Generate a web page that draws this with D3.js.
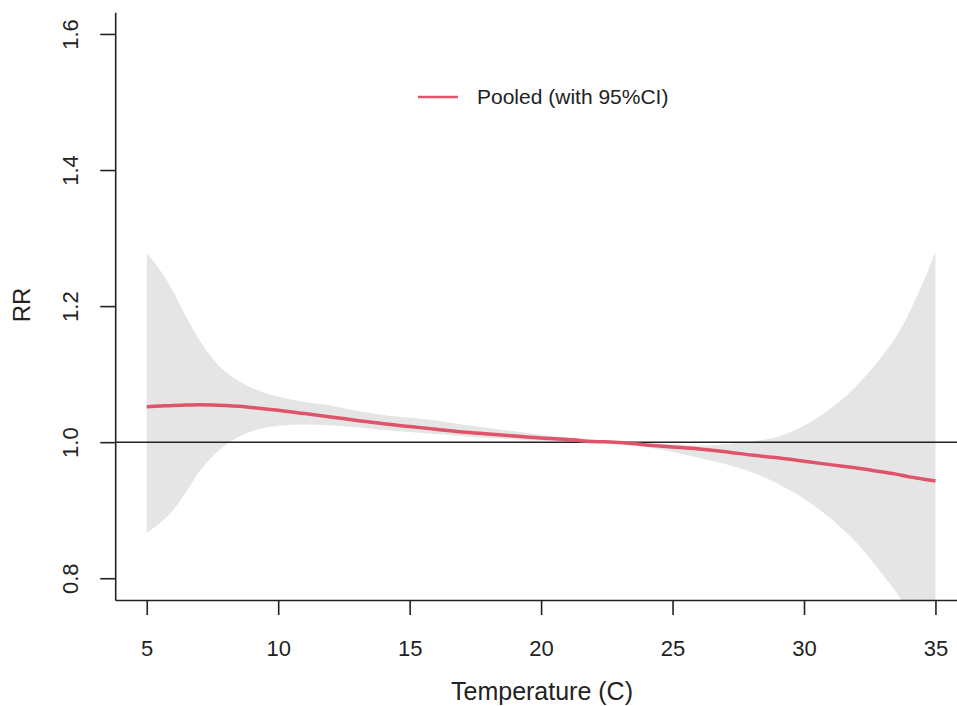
<!DOCTYPE html>
<html>
<head>
<meta charset="utf-8">
<script src="https://cdn.jsdelivr.net/npm/d3@7"></script>
<style>
  body { margin: 0; background: #fff; }
  svg { display: block; font-family: "Liberation Sans", Arial, Helvetica, sans-serif; }
</style>
</head>
<body>
<svg id="chart" width="957" height="706"></svg>
<script>
// temperature grid and pooled RR with 95% CI
const temps = [5, 5.5, 6, 6.5, 7, 7.5, 8, 8.5, 9, 10, 11, 12, 13, 14, 15, 16, 17, 18, 19, 20,
               21, 22, 22.8, 24, 25, 26, 27, 28, 29, 30, 31, 32, 33, 33.5, 34, 34.5, 35];
const rrFit = [1.052, 1.053, 1.054, 1.0545, 1.055, 1.0548, 1.054, 1.0528, 1.051, 1.047, 1.042, 1.037, 1.032, 1.027, 1.023, 1.019, 1.015, 1.012, 1.009, 1.006,
               1.004, 1.001, 1.000, 0.996, 0.993, 0.990, 0.986, 0.981, 0.977, 0.972, 0.967, 0.962, 0.956, 0.953, 0.949, 0.946, 0.943];
const rrLow = [0.866, 0.881, 0.900, 0.927, 0.957, 0.979, 0.996, 1.008, 1.016, 1.024, 1.026, 1.025, 1.022, 1.018, 1.015, 1.012, 1.009, 1.006, 1.004, 1.002,
               1.001, 0.999, 1.000, 0.993, 0.986, 0.977, 0.968, 0.956, 0.939, 0.917, 0.888, 0.852, 0.805, 0.780, 0.750, 0.720, 0.694];
const rrHigh = [1.278, 1.253, 1.222, 1.184, 1.150, 1.123, 1.103, 1.090, 1.080, 1.067, 1.059, 1.054, 1.046, 1.040, 1.036, 1.032, 1.026, 1.021, 1.016, 1.011,
                1.007, 1.003, 1.000, 0.998, 0.997, 0.995, 0.997, 1.001, 1.008, 1.024, 1.049, 1.083, 1.128, 1.155, 1.190, 1.232, 1.280];
const xTicks = [5, 10, 15, 20, 25, 30, 35];
const yTicks = [0.8, 1.0, 1.2, 1.4, 1.6];
const legendLabel = "Pooled (with 95%CI)";

const svg = d3.select("#chart");

// plot region (R style, 4% expansion of xlim/ylim)
const x = d3.scaleLinear().domain([3.8, 36.2]).range([115.2, 967]);
const y = d3.scaleLinear().domain([0.768, 1.632]).range([600, 12.2]);

svg.append("defs").append("clipPath").attr("id", "plotclip")
  .append("rect")
    .attr("x", x.range()[0]).attr("y", y.range()[1])
    .attr("width", x.range()[1] - x.range()[0])
    .attr("height", y.range()[0] - y.range()[1]);

const data = temps.map((t, i) => ({t: t, fit: rrFit[i], lo: rrLow[i], hi: rrHigh[i]}));

const plot = svg.append("g").attr("clip-path", "url(#plotclip)");

plot.append("path")
    .datum(data)
    .attr("fill", "#e5e5e5")
    .attr("d", d3.area()
      .x(d => x(d.t))
      .y0(d => y(d.lo))
      .y1(d => y(d.hi))
      .curve(d3.curveMonotoneX));

plot.append("line")
    .attr("x1", x.range()[0]).attr("x2", x.range()[1])
    .attr("y1", y(1)).attr("y2", y(1))
    .attr("stroke", "#222").attr("stroke-width", 1.5);

plot.append("path")
    .datum(data)
    .attr("fill", "none")
    .attr("stroke", "#df536b")
    .attr("stroke-width", 3.5)
    .attr("d", d3.line()
      .x(d => x(d.t))
      .y(d => y(d.fit))
      .curve(d3.curveMonotoneX));

// axes
const gx = svg.append("g")
    .attr("transform", "translate(0," + y.range()[0] + ")")
    .call(d3.axisBottom(x).tickValues(xTicks).tickSize(15).tickSizeOuter(0));
gx.selectAll(".tick text")
    .attr("y", 56).attr("dy", 0)
    .attr("font-size", 22).attr("fill", "#222");

const gy = svg.append("g")
    .attr("transform", "translate(" + x.range()[0] + ",0)")
    .call(d3.axisLeft(y).tickValues(yTicks).tickFormat(d3.format(".1f")).tickSize(15).tickSizeOuter(0));
gy.selectAll(".tick text")
    .attr("x", 0).attr("dy", "0.35em")
    .attr("transform", "translate(-45,0) rotate(-90)")
    .attr("text-anchor", "middle")
    .attr("font-size", 22).attr("fill", "#222");

svg.selectAll(".domain, .tick line")
    .attr("stroke", "#222").attr("stroke-width", 1.6);

// axis titles
svg.append("text")
    .attr("x", 542).attr("y", 700)
    .attr("text-anchor", "middle")
    .attr("font-size", 25).attr("fill", "#222")
    .text("Temperature (C)");

svg.append("text")
    .attr("transform", "translate(22,305) rotate(-90)")
    .attr("dy", "0.35em")
    .attr("text-anchor", "middle")
    .attr("font-size", 24).attr("fill", "#222")
    .text("RR");

// legend
const legend = svg.append("g").attr("transform", "translate(418,97)");
legend.append("line")
    .attr("x1", 0).attr("x2", 40)
    .attr("stroke", "#df536b").attr("stroke-width", 2.5);
legend.append("text")
    .attr("x", 59).attr("dy", "0.35em")
    .attr("font-size", 21).attr("fill", "#222")
    .text(legendLabel);
</script>
</body>
</html>
